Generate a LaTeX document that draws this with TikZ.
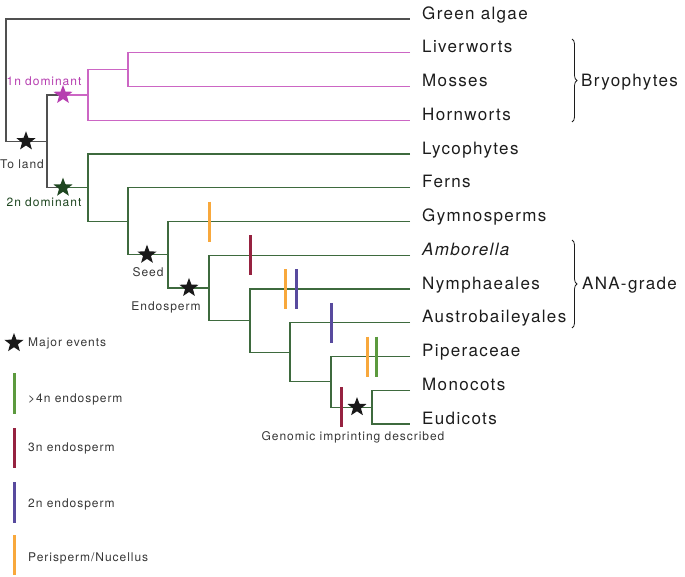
\documentclass[tikz,border=0pt]{standalone}
\usepackage{fontspec}
\setmainfont[LetterSpace=8]{TeX Gyre Heros}
\usepackage{tikz}
\usetikzlibrary{shapes.geometric, decorations.pathreplacing, positioning}
\definecolor{treegray}{RGB}{80,80,80}
\definecolor{bryopink}{RGB}{204,102,196}
\definecolor{starpink}{RGB}{182,62,176}
\definecolor{vascgreen}{RGB}{62,106,62}
\definecolor{stargreen}{RGB}{30,70,32}
\definecolor{perisp}{RGB}{248,168,60}
\definecolor{endotwo}{RGB}{88,74,158}
\definecolor{endothree}{RGB}{150,34,64}
\definecolor{endofour}{RGB}{92,154,62}
\definecolor{txtdark}{RGB}{28,28,28}
\definecolor{txtgray}{RGB}{55,55,55}
\tikzset{
  branch/.style={line width=1.2pt, draw=treegray},
  pinkbranch/.style={branch, draw=bryopink},
  greenbranch/.style={branch, draw=vascgreen},
  taxon/.style={anchor=base west, inner sep=0pt, font=\fontsize{17}{20}\selectfont, text=txtdark},
  note/.style={font=\fontsize{12}{14}\selectfont, text=txtgray, inner sep=0pt},
  evstar/.style={star, star points=5, star point ratio=2.4, minimum size=20pt, inner sep=0pt, draw=none, fill=black!90},
  trait/.style={line width=3pt},
  clade/.style={decorate, decoration={brace, amplitude=5pt}, line width=0.8pt, draw=txtdark}
}
\begin{document}
\begin{tikzpicture}[x=1pt, y=-1pt]
  \useasboundingbox (0,0) rectangle (685,576);

  % Taxa (tips of the tree)
  \foreach \name/\txt [count=\i from 0] in {alg/Green algae, lvw/Liverworts, mos/Mosses, hrn/Hornworts, lyc/Lycophytes, fer/Ferns, gym/Gymnosperms, amb/\textit{Amborella}, nym/Nymphaeales, aus/Austrobaileyales, pip/Piperaceae, mon/Monocots, eud/Eudicots} {
    \coordinate (t-\name) at (410, {19+33.75*\i});
    \node[taxon] (\name) at (422, {19+33.75*\i}) {\txt};
  }

  % Internal nodes
  \coordinate (root) at (6,141.3);
  \coordinate (L) at (47,141.3);
  \coordinate (P1) at (88,94.9);
  \coordinate (P2) at (128,69.6);
  \coordinate (A) at (88,187.6);
  \coordinate (B) at (128,221.2);
  \coordinate (C) at (168,254.7);
  \coordinate (D) at (209,287.9);
  \coordinate (E) at (250,320.6);
  \coordinate (F) at (290,352.3);
  \coordinate (G) at (331,381.8);
  \coordinate (H) at (372,407.1);

  % Gray backbone
  \draw[branch] (L) -- (root) |- (t-alg);
  \draw[branch] (P1) -| (L) |- (A);

  % Bryophytes
  \draw[pinkbranch] (t-lvw) -| (P2) |- (t-mos);
  \draw[pinkbranch] (P2) -| (P1) |- (t-hrn);
  \draw[pinkbranch] (63,94.9) -- (P1);

  % Vascular plants
  \draw[greenbranch] (63,187.6) -- (A);
  \draw[greenbranch] (t-lyc) -| (A) |- (B);
  \draw[greenbranch] (t-fer) -| (B) |- (C);
  \draw[greenbranch] (t-gym) -| (C) |- (D);
  \draw[greenbranch] (t-amb) -| (D) |- (E);
  \draw[greenbranch] (t-nym) -| (E) |- (F);
  \draw[greenbranch] (t-aus) -| (F) |- (G);
  \draw[greenbranch] (t-pip) -| (G) |- (H);
  \draw[greenbranch] (t-mon) -| (H) |- (t-eud);

  % Endosperm traits
  \draw[trait, perisp] (209,221.5) +(0,-20) -- +(0,20);
  \draw[trait, endothree] (250,255.25) +(0,-20) -- +(0,20);
  \draw[trait, perisp] (285,289) +(0,-20) -- +(0,20);
  \draw[trait, endotwo] (296,289) +(0,-20) -- +(0,20);
  \draw[trait, endotwo] (331,322.75) +(0,-20) -- +(0,20);
  \draw[trait, perisp] (367,356.5) +(0,-20) -- +(0,20);
  \draw[trait, endofour] (376,356.5) +(0,-20) -- +(0,20);
  \draw[trait, endothree] (341,407.1) +(0,-20) -- +(0,20);

  % Major events
  \node[evstar] (s-land) at (26,141.3) {};
  \node[evstar, fill=starpink] (s-1n) at (63,94.9) {};
  \node[evstar, fill=stargreen] (s-2n) at (63,187.6) {};
  \node[evstar] (s-seed) at (147,254.7) {};
  \node[evstar] (s-endo) at (189,287.9) {};
  \node[evstar] (s-imp) at (357,407.1) {};
  \node[note] (l-land) at (22,164) {To land};
  \node[note, text=starpink] (l-1n) at (44,81) {1n dominant};
  \node[note, text=stargreen] (l-2n) at (44,202) {2n dominant};
  \node[note] (l-seed) at (148,272) {Seed};
  \node[note] (l-endo) at (166,307) {Endosperm};
  \node[note] (l-imp) at (353,437) {Genomic imprinting described};

  % Groups
  \draw[clade] (572,39) -- (572,122);
  \node[taxon] (bryo) at (581,86.5) {Bryophytes};
  \draw[clade] (572,240) -- (572,328);
  \node[taxon] (ana) at (582,289) {ANA-grade};

  % Legend
  \node[evstar] (k-star) at (14,343) {};
  \node[note, anchor=west] (k-ev) at (28,343) {Major events};
  \draw[trait, endofour] (14,373) -- (14,414);
  \node[note, anchor=west] (k-four) at (28,399) {>4n endosperm};
  \draw[trait, endothree] (14,428) -- (14,468);
  \node[note, anchor=west] (k-three) at (28,448) {3n endosperm};
  \draw[trait, endotwo] (14,482) -- (14,523);
  \node[note, anchor=west] (k-two) at (28,504) {2n endosperm};
  \draw[trait, perisp] (14,535) -- (14,575);
  \node[note, anchor=west] (k-peri) at (28,558) {Perisperm/Nucellus};
\end{tikzpicture}
\end{document}
